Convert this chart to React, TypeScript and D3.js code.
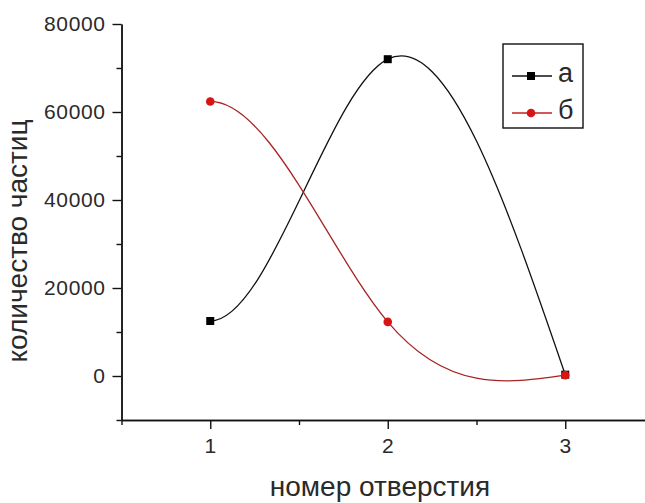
import * as d3 from 'd3'
import React, { useEffect, useRef } from 'react'

const holes = [1, 2, 3]
const seriesA = [12500, 72000, 300]
const seriesB = [62400, 12300, 200]
const seriesNames = ['а', 'б']
const yMajor = [0, 20000, 40000, 60000, 80000]
const yMinor = [-10000, 10000, 30000, 50000, 70000]
const xMajor = [1, 2, 3]
const xMinor = [0.5, 1.5, 2.5, 3.5]

const W = 645
const H = 503
const FONT = '"Liberation Sans", Arial, sans-serif'
const RED = '#d81515'

// cubic spline through the points: zero slope at the first point, natural at the last
function splineSlopes(xs: number[], ys: number[]) {
  const n = xs.length
  const a = new Array(n).fill(0)
  const b = new Array(n).fill(0)
  const c = new Array(n).fill(0)
  const d = new Array(n).fill(0)
  b[0] = 1
  for (let i = 1; i < n - 1; i++) {
    const h0 = xs[i] - xs[i - 1]
    const h1 = xs[i + 1] - xs[i]
    const s0 = (ys[i] - ys[i - 1]) / h0
    const s1 = (ys[i + 1] - ys[i]) / h1
    a[i] = h1
    b[i] = 2 * (h0 + h1)
    c[i] = h0
    d[i] = 3 * (h1 * s0 + h0 * s1)
  }
  const hl = xs[n - 1] - xs[n - 2]
  a[n - 1] = 1
  b[n - 1] = 2
  d[n - 1] = (3 * (ys[n - 1] - ys[n - 2])) / hl
  for (let i = 1; i < n; i++) {
    const w = a[i] / b[i - 1]
    b[i] -= w * c[i - 1]
    d[i] -= w * d[i - 1]
  }
  const m = new Array(n).fill(0)
  m[n - 1] = d[n - 1] / b[n - 1]
  for (let i = n - 2; i >= 0; i--) m[i] = (d[i] - c[i] * m[i + 1]) / b[i]
  return m
}

function curveSpline(context: any) {
  let xs: number[] = []
  let ys: number[] = []
  return {
    areaStart() {},
    areaEnd() {},
    lineStart() {
      xs = []
      ys = []
    },
    point(x: number, y: number) {
      xs.push(+x)
      ys.push(+y)
    },
    lineEnd() {
      const n = xs.length
      if (!n) return
      context.moveTo(xs[0], ys[0])
      if (n < 3) {
        if (n === 2) context.lineTo(xs[1], ys[1])
        return
      }
      const m = splineSlopes(xs, ys)
      for (let i = 0; i < n - 1; i++) {
        const h = (xs[i + 1] - xs[i]) / 3
        context.bezierCurveTo(
          xs[i] + h, ys[i] + m[i] * h,
          xs[i + 1] - h, ys[i + 1] - m[i + 1] * h,
          xs[i + 1], ys[i + 1]
        )
      }
    }
  }
}

export default function App() {
  const ref = useRef<SVGSVGElement>(null)

  useEffect(() => {
    const svg = d3.select(ref.current)
    svg.selectAll('*').remove()

    const x = d3.scaleLinear().domain([0.5, 3.5]).range([121.5, 654])
    const y = d3.scaleLinear().domain([-10000, 80000]).range([420, 24])

    // axes
    svg.append('g').attr('transform', `translate(${x(0.5)},0)`)
      .call(
        d3.axisLeft(y).tickValues(yMajor).tickSize(9).tickSizeOuter(0).tickPadding(7)
          .tickFormat(d => String(d))
      )
    svg.append('g').attr('transform', `translate(${x(0.5)},0)`)
      .call(d3.axisLeft(y).tickValues(yMinor).tickSize(5).tickSizeOuter(0).tickFormat(() => ''))

    svg.append('g').attr('transform', `translate(0,${y(-10000)})`)
      .call(
        d3.axisBottom(x).tickValues(xMajor).tickSize(9).tickSizeOuter(0).tickPadding(9)
          .tickFormat(d => String(d))
      )
    svg.append('g').attr('transform', `translate(0,${y(-10000)})`)
      .call(d3.axisBottom(x).tickValues(xMinor).tickSize(5).tickSizeOuter(0).tickFormat(() => ''))

    svg.selectAll('.domain, .tick line').attr('stroke', '#111').attr('stroke-width', 1.4)
    svg.selectAll('.tick text')
      .attr('fill', '#2a2a2a')
      .style('font-family', FONT)
      .style('font-size', '21px')
      .style('letter-spacing', '0.6px')

    // axis titles
    svg.append('text')
      .attr('x', 380).attr('y', 496)
      .attr('text-anchor', 'middle')
      .attr('fill', '#2a2a2a')
      .style('font-family', FONT).style('font-size', '28px')
      .text('номер отверстия')
    svg.append('text')
      .attr('transform', 'translate(27,241) rotate(-90)')
      .attr('text-anchor', 'middle')
      .attr('fill', '#2a2a2a')
      .style('font-family', FONT).style('font-size', '28px')
      .text('количество частиц')

    const line = d3.line<number>()
      .x((_, i) => x(holes[i]))
      .y(d => y(d))
      .curve(curveSpline as any)

    // series а
    svg.append('path').attr('d', line(seriesA)).attr('fill', 'none')
      .attr('stroke', '#111').attr('stroke-width', 1.3)
    svg.append('g').selectAll('rect').data(seriesA).join('rect')
      .attr('x', (_, i) => x(holes[i]) - 4).attr('y', d => y(d) - 4)
      .attr('width', 8).attr('height', 8).attr('fill', '#000')

    // series б
    svg.append('path').attr('d', line(seriesB)).attr('fill', 'none')
      .attr('stroke', '#a82424').attr('stroke-width', 1.3)
    svg.append('g').selectAll('circle').data(seriesB).join('circle')
      .attr('cx', (_, i) => x(holes[i])).attr('cy', d => y(d))
      .attr('r', 4.3).attr('fill', RED)

    // legend
    const lg = svg.append('g')
    lg.append('rect').attr('x', 503).attr('y', 44).attr('width', 80).attr('height', 84)
      .attr('fill', '#fff').attr('stroke', '#111').attr('stroke-width', 1.4)
    const rows = [
      { name: seriesNames[0], cy: 76, marker: 'square' },
      { name: seriesNames[1], cy: 113, marker: 'circle' }
    ]
    rows.forEach(r => {
      lg.append('line').attr('x1', 512).attr('x2', 552).attr('y1', r.cy).attr('y2', r.cy)
        .attr('stroke', r.marker === 'circle' ? '#c02020' : '#111').attr('stroke-width', 1.4)
      if (r.marker === 'square') {
        lg.append('rect').attr('x', 527).attr('y', r.cy - 4).attr('width', 8).attr('height', 8)
          .attr('fill', '#000')
      } else {
        lg.append('circle').attr('cx', 531).attr('cy', r.cy).attr('r', 4.3).attr('fill', RED)
      }
      lg.append('text').attr('x', 558).attr('y', r.cy + 6)
        .attr('fill', '#2a2a2a')
        .style('font-family', FONT).style('font-size', '27px')
        .text(r.name)
    })
  }, [])

  return (
    <svg
      ref={ref}
      width={W}
      height={H}
      style={{ position: 'absolute', left: 0, top: 0, background: '#fff', overflow: 'hidden' }}
    />
  )
}
